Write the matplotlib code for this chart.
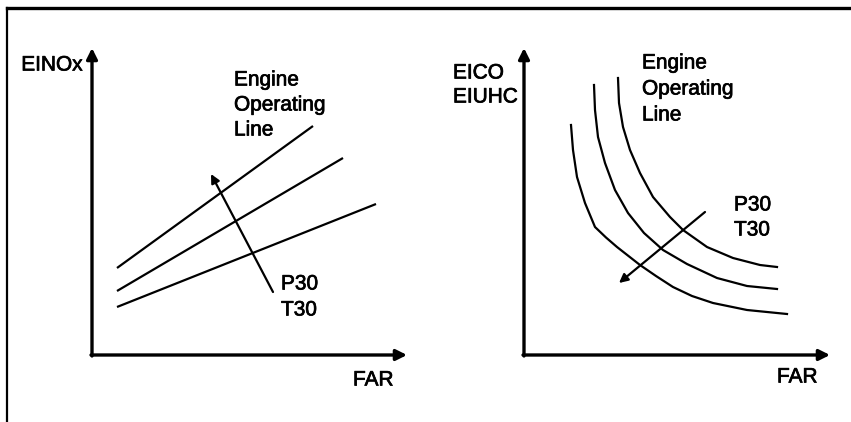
import matplotlib
matplotlib.use("Agg")
import matplotlib.pyplot as plt
import matplotlib.patheffects as pe
from matplotlib.lines import Line2D

plt.rcParams['font.family'] = ['Liberation Sans', 'DejaVu Sans']

# Left panel: EINOx vs FAR, three straight operating lines (start, end)
nox_x = [[2.5, 22.1], [2.5, 25.1], [2.5, 28.4]]
nox_y = [[8.7, 22.9], [6.4, 19.7], [4.8, 15.1]]
nox_arrow = [(18.1, 6.3), (11.9, 18.1)]   # P30/T30 increase direction

# Right panel: EICO/EIUHC vs FAR, three falling curves
co_x = [
    [9.4, 9.5, 9.9, 10.6, 11.6, 12.9, 14.6, 15.9, 18.3, 20.9, 23.6, 25.3],
    [7.0, 7.1, 7.4, 8.1, 9.1, 10.4, 12.0, 13.9, 16.3, 19.3, 22.3, 25.3],
    [4.7, 4.9, 5.3, 6.1, 7.1, 8.2, 9.3, 11.6, 13.2, 14.9, 16.8, 18.9, 22.3, 26.3],
]
co_y = [
    [27.7, 25.2, 22.8, 20.5, 18.2, 15.8, 13.8, 12.5, 10.8, 9.7, 9.0, 8.8],
    [27.0, 24.5, 21.8, 19.2, 16.5, 14.2, 12.2, 10.5, 9.1, 7.7, 6.9, 6.6],
    [23.0, 20.5, 17.8, 15.2, 12.8, 11.75, 10.8, 9.0, 7.9, 6.8, 5.9, 5.2, 4.5, 4.1],
]
co_arrow = [(18.1, 14.3), (9.5, 7.2)]

fig = plt.figure(figsize=(8.51, 4.22), dpi=100)

# frame lines (top and left edge of the scanned drawing)
fig.add_artist(Line2D([7 / 851, 1.0], [1 - 8 / 422, 1 - 8 / 422], color='black', lw=2.4))
fig.add_artist(Line2D([7 / 851, 7 / 851], [0, 1 - 8 / 422], color='black', lw=1.6))

ax1 = fig.add_axes([92 / 851, 67 / 422, 318 / 851, 310 / 422])
ax2 = fig.add_axes([524 / 851, 67 / 422, 310 / 851, 310 / 422])
ax1.set_xlim(0, 31.8)
ax1.set_ylim(0, 31)
ax2.set_xlim(0, 31)
ax2.set_ylim(0, 31)

fs = 15
heavy = [pe.withStroke(linewidth=0.5, foreground='black')]
axis_arrow = dict(arrowstyle='-|>', color='black', lw=2.4, mutation_scale=16,
                  shrinkA=0, shrinkB=0)
small_arrow = dict(arrowstyle='-|>', color='black', lw=1.6, mutation_scale=13,
                   shrinkA=0, shrinkB=0)


def label(ax, x, y, s, ha='left'):
    ax.text(x, y, s, fontsize=fs, ha=ha, va='center', clip_on=False,
            path_effects=heavy)


for ax, xtip, ytip in [(ax1, 31.5, 30.7), (ax2, 30.6, 30.7)]:
    ax.axis('off')
    ax.annotate('', xy=(0, ytip), xytext=(0, -0.1), arrowprops=axis_arrow,
                annotation_clip=False)
    ax.annotate('', xy=(xtip, 0), xytext=(-0.1, 0), arrowprops=axis_arrow,
                annotation_clip=False)

# left panel
for xs, ys in zip(nox_x, nox_y):
    ax1.plot(xs, ys, color='black', lw=1.6, solid_capstyle='butt')
ax1.annotate('', xy=nox_arrow[1], xytext=nox_arrow[0], arrowprops=small_arrow)
label(ax1, -0.9, 29.0, 'EINOx', ha='right')
label(ax1, 14.2, 27.5, 'Engine')
label(ax1, 14.2, 25.0, 'Operating')
label(ax1, 14.2, 22.5, 'Line')
label(ax1, 18.9, 7.1, 'P30')
label(ax1, 18.9, 4.5, 'T30')
label(ax1, 26.1, -2.5, 'FAR')

# right panel
for xs, ys in zip(co_x, co_y):
    ax2.plot(xs, ys, color='black', lw=1.6, solid_joinstyle='round')
ax2.annotate('', xy=co_arrow[1], xytext=co_arrow[0], arrowprops=small_arrow)
label(ax2, -7.1, 28.2, 'EICO')
label(ax2, -7.1, 25.8, 'EIUHC')
label(ax2, 11.8, 29.2, 'Engine')
label(ax2, 11.8, 26.6, 'Operating')
label(ax2, 11.8, 24.0, 'Line')
label(ax2, 21.0, 15.0, 'P30')
label(ax2, 21.0, 12.5, 'T30')
label(ax2, 25.3, -2.2, 'FAR')

fig.savefig('out.png', dpi=100)
